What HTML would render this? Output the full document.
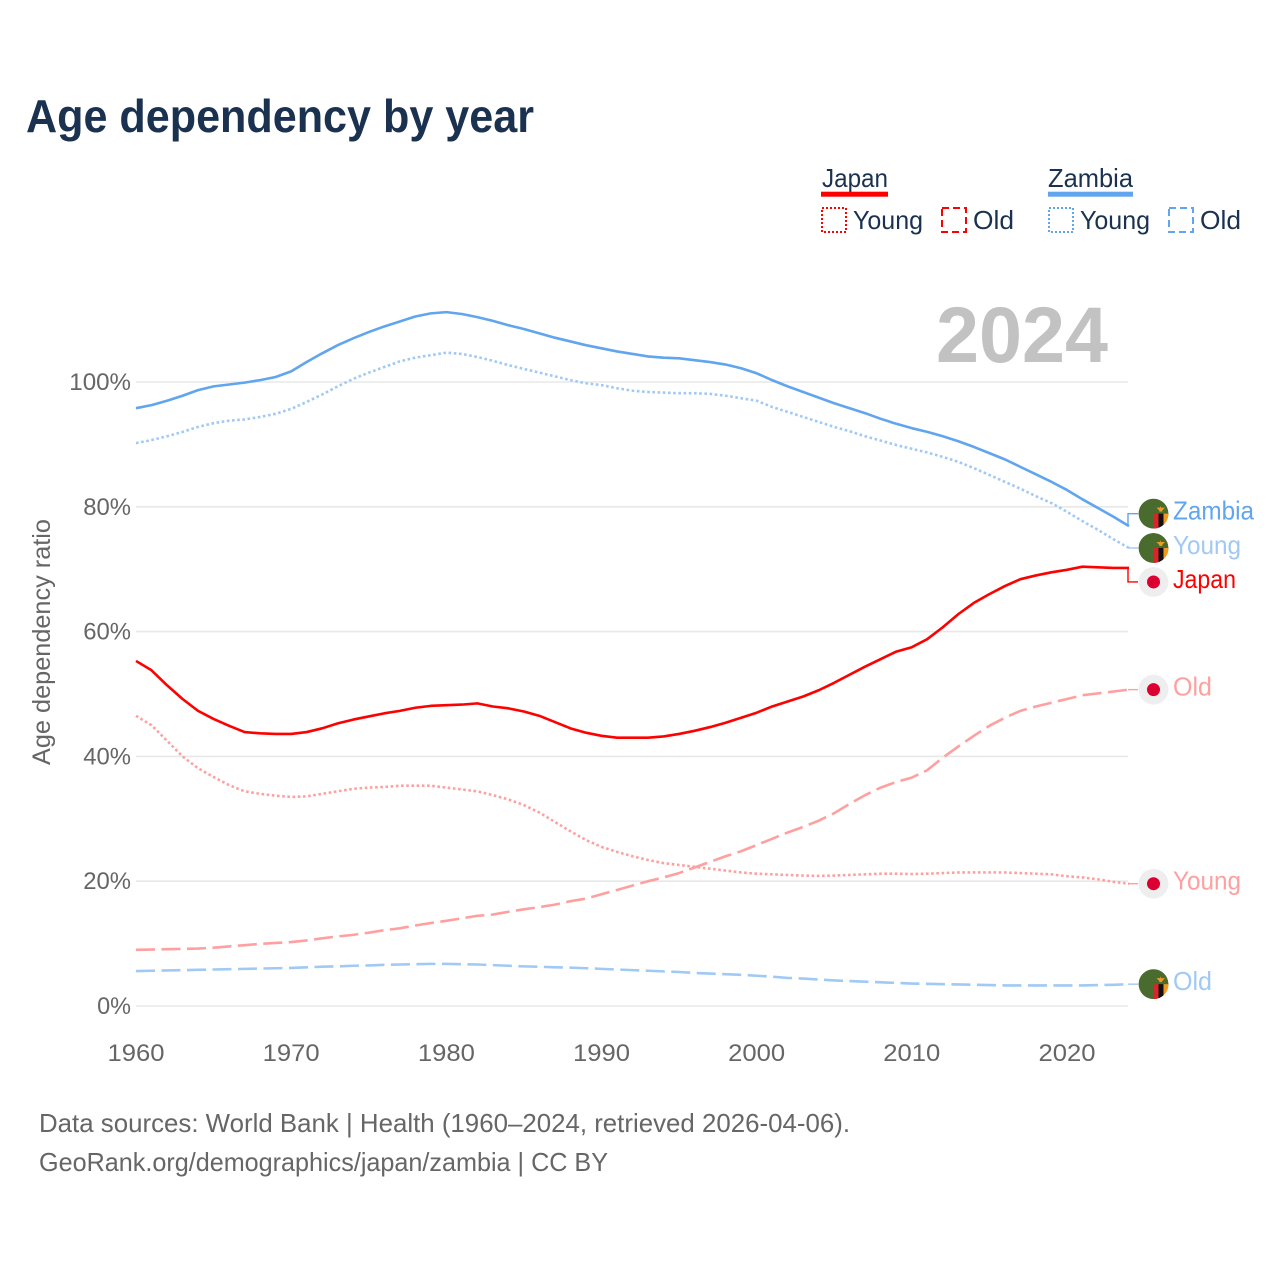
<!DOCTYPE html>
<html lang="en">
<head>
<meta charset="utf-8">
<title>Age dependency by year</title>
<style>
html,body{margin:0;padding:0;background:#fff;}
svg{display:block;font-family:"Liberation Sans",sans-serif;}
</style>
</head>
<body>
<svg id="chart" xmlns="http://www.w3.org/2000/svg" width="1280" height="1280" viewBox="0 0 1280 1280">
  <defs>
    <clipPath id="flag-clip"><circle cx="0" cy="0" r="15"></circle></clipPath>
  </defs>
  <rect x="0" y="0" width="1280" height="1280" fill="#ffffff"></rect>
  <text x="26" y="132" font-size="46" font-weight="700" fill="#1a3250" textLength="508" lengthAdjust="spacingAndGlyphs">Age dependency by year</text>

  <g>
    <text x="822" y="187" font-size="26" fill="#1a3250" textLength="66" lengthAdjust="spacingAndGlyphs">Japan</text>
    <rect x="821" y="191.7" width="67" height="5" fill="#ff0000"></rect>
    <rect x="822" y="208" width="24" height="24" fill="none" stroke="#ff0000" stroke-width="2" stroke-dasharray="2 2"></rect>
    <text x="853" y="229" font-size="26" fill="#1a3250" textLength="70" lengthAdjust="spacingAndGlyphs">Young</text>
    <rect x="942" y="208" width="24" height="24" fill="none" stroke="#ff0000" stroke-width="2" stroke-dasharray="7 4"></rect>
    <text x="973" y="229" font-size="26" fill="#1a3250" textLength="41" lengthAdjust="spacingAndGlyphs">Old</text>

    <text x="1048" y="187" font-size="26" fill="#1a3250" textLength="85" lengthAdjust="spacingAndGlyphs">Zambia</text>
    <rect x="1048" y="191.7" width="85" height="5" fill="#60a5ee"></rect>
    <rect x="1049" y="208" width="24" height="24" fill="none" stroke="#60a5ee" stroke-width="2" stroke-dasharray="2 2"></rect>
    <text x="1080" y="229" font-size="26" fill="#1a3250" textLength="70" lengthAdjust="spacingAndGlyphs">Young</text>
    <rect x="1169" y="208" width="24" height="24" fill="none" stroke="#60a5ee" stroke-width="2" stroke-dasharray="7 4"></rect>
    <text x="1200" y="229" font-size="26" fill="#1a3250" textLength="41" lengthAdjust="spacingAndGlyphs">Old</text>
  </g>

  <text x="936" y="362" font-size="79" font-weight="700" fill="#c2c2c2" textLength="172" lengthAdjust="spacingAndGlyphs">2024</text>
  <text transform="translate(50,765) rotate(-90)" x="0" y="0" font-size="25" fill="#666666" textLength="246" lengthAdjust="spacingAndGlyphs">Age dependency ratio</text>

  <g id="grid"></g>
  <g id="yticks"></g>
  <g id="xticks"></g>
  <g id="series"></g>
  <g id="labels"></g>

  <text x="39" y="1132" font-size="26" fill="#666666" textLength="811" lengthAdjust="spacingAndGlyphs">Data sources: World Bank | Health (1960–2024, retrieved 2026-04-06).</text>
  <text x="39" y="1171" font-size="26" fill="#666666" textLength="569" lengthAdjust="spacingAndGlyphs">GeoRank.org/demographics/japan/zambia | CC BY</text>
</svg>
<script>
var startYear = 1960;
var endYear = 2024;
var yTickValues = [0, 20, 40, 60, 80, 100];
var xTickValues = [1960, 1970, 1980, 1990, 2000, 2010, 2020];

var zambiaTotal = [95.8,96.3,97.0,97.8,98.7,99.3,99.6,99.9,100.3,100.8,101.7,103.2,104.6,105.9,107.0,108.0,108.9,109.7,110.5,111.0,111.2,110.9,110.4,109.8,109.1,108.5,107.8,107.1,106.5,105.9,105.4,104.9,104.5,104.1,103.9,103.8,103.5,103.2,102.8,102.2,101.4,100.3,99.3,98.4,97.5,96.6,95.8,95.0,94.1,93.3,92.6,92.0,91.3,90.5,89.6,88.6,87.6,86.4,85.2,84.0,82.7,81.2,79.8,78.4,76.9];
var zambiaYoung = [90.2,90.7,91.3,92.0,92.8,93.4,93.8,94.0,94.4,94.9,95.7,96.8,98.0,99.3,100.5,101.5,102.4,103.3,103.9,104.3,104.7,104.5,104.0,103.4,102.7,102.1,101.5,100.9,100.3,99.8,99.5,99.0,98.6,98.4,98.3,98.2,98.2,98.1,97.8,97.4,97.0,96.0,95.2,94.4,93.6,92.8,92.1,91.3,90.6,89.9,89.3,88.7,88.0,87.2,86.2,85.1,84.0,82.9,81.7,80.6,79.2,77.7,76.3,74.8,73.4];
var zambiaOld = [5.6,5.65,5.7,5.75,5.8,5.85,5.9,5.95,6.0,6.05,6.1,6.2,6.3,6.35,6.45,6.5,6.6,6.65,6.7,6.75,6.75,6.7,6.65,6.55,6.45,6.35,6.3,6.2,6.15,6.05,5.95,5.85,5.75,5.65,5.55,5.45,5.3,5.2,5.1,5.0,4.85,4.7,4.5,4.4,4.25,4.1,4.0,3.9,3.8,3.7,3.6,3.55,3.5,3.45,3.4,3.35,3.3,3.3,3.3,3.3,3.3,3.3,3.35,3.4,3.5];

var japanTotal = [55.3,53.8,51.4,49.2,47.3,46.0,44.9,43.9,43.7,43.6,43.6,43.9,44.5,45.3,45.9,46.4,46.9,47.3,47.8,48.1,48.2,48.3,48.5,48.0,47.7,47.2,46.5,45.5,44.5,43.8,43.3,43.0,43.0,43.0,43.2,43.6,44.1,44.7,45.4,46.2,47.0,48.0,48.8,49.6,50.6,51.8,53.1,54.4,55.6,56.8,57.5,58.8,60.7,62.8,64.6,66.0,67.3,68.4,69.0,69.5,69.9,70.4,70.3,70.2,70.2];
var japanYoung = [46.5,45.0,42.5,40.0,38.1,36.7,35.4,34.4,34.0,33.7,33.5,33.6,34.0,34.4,34.8,35.0,35.1,35.3,35.3,35.3,35.0,34.7,34.4,33.8,33.1,32.2,31.0,29.5,28.0,26.6,25.5,24.7,24.0,23.4,22.9,22.6,22.3,22.0,21.7,21.4,21.2,21.1,21.0,20.9,20.85,20.9,21.0,21.1,21.2,21.2,21.15,21.2,21.3,21.4,21.4,21.4,21.4,21.3,21.2,21.1,20.8,20.6,20.3,19.9,19.6];
var japanOld = [9.0,9.05,9.1,9.15,9.2,9.35,9.55,9.75,9.95,10.1,10.25,10.5,10.85,11.15,11.4,11.75,12.15,12.45,12.9,13.3,13.65,14.05,14.45,14.65,15.1,15.5,15.85,16.25,16.8,17.2,17.9,18.6,19.3,20.0,20.6,21.3,22.2,23.1,24.0,24.8,25.8,26.8,27.8,28.7,29.7,30.9,32.4,33.8,35.0,35.9,36.6,37.8,39.8,41.6,43.3,44.9,46.2,47.3,48.0,48.6,49.2,49.8,50.1,50.4,50.7];

var SVG_NS = 'http://www.w3.org/2000/svg';
var BLUE = '#60a5ee';
var RED = '#ff0000';
var PALE_BLUE = '#a0c9f5';
var PALE_RED = '#ffa0a0';
var SOLID_DASH = '';
var DOT_DASH = '2.6 2.6';
var LONG_DASH = '19 6.5';

function xScale(year) {
  return 136 + (year - startYear) * (1129 - 136) / (endYear - startYear);
}
function yScale(pct) {
  return 1006 - pct * 6.24;
}
function make(tag, attrs, parent) {
  var el = document.createElementNS(SVG_NS, tag);
  for (var k in attrs) { el.setAttribute(k, attrs[k]); }
  parent.appendChild(el);
  return el;
}

var gridGroup = document.getElementById('grid');
var yTickGroup = document.getElementById('yticks');
var xTickGroup = document.getElementById('xticks');
var seriesGroup = document.getElementById('series');
var labelGroup = document.getElementById('labels');

yTickValues.forEach(function (v) {
  var line = make('line', {x1: 136, x2: 1128, y1: yScale(v), y2: yScale(v), stroke: '#e8e8e8', 'stroke-width': 1.6}, gridGroup);
  
  
  var t = make('text', {x: 131, y: yScale(v) + 8, 'font-size': 24, fill: '#666666', 'text-anchor': 'end', textLength: String(v).length * 13.9 + 20, lengthAdjust: 'spacingAndGlyphs'}, yTickGroup);
  t.textContent = v + '%';
  
  
});

xTickValues.forEach(function (yr) {
  var t = make('text', {x: xScale(yr), y: 1061, 'font-size': 24, fill: '#666666', 'text-anchor': 'middle', textLength: 57, lengthAdjust: 'spacingAndGlyphs'}, xTickGroup);
  t.textContent = yr;
  
  
});

function drawSeries(name, values, color, dash) {
  var d = values.map(function (v, i) {
    return (i ? 'L' : 'M') + xScale(startYear + i).toFixed(2) + ' ' + yScale(v).toFixed(2);
  }).join(' ');
  var attrs = {d: d, fill: 'none', stroke: color, 'stroke-width': 2.6, 'stroke-linejoin': 'round'};
  if (dash) { attrs['stroke-dasharray'] = dash; }
  var path = make('path', attrs, seriesGroup);
  
  
}

function drawFlag(country, name, cy) {
  var g = make('g', {transform: 'translate(1153.5,' + cy + ')', 'clip-path': 'url(#flag-clip)'}, labelGroup);
  
  
  if (country === 'japan') {
    make('circle', {cx: 0, cy: 0, r: 15, fill: '#eeeeee'}, g);
    make('circle', {cx: 0, cy: 0, r: 6.5, fill: '#dc0030'}, g);
  } else {
    make('circle', {cx: 0, cy: 0, r: 15, fill: '#4a6b2e'}, g);
    make('rect', {x: 0, y: 0, width: 5, height: 16, fill: '#d8252b'}, g);
    make('rect', {x: 5, y: 0, width: 5, height: 16, fill: '#111111'}, g);
    make('rect', {x: 10, y: 0, width: 5, height: 16, fill: '#f39a1e'}, g);
    make('path', {d: 'M3 -6 L11.5 -6 L9 -3.5 L8.5 -2 L6 -2 L5.5 -3.5 Z M7 -8 L7.5 -6 L6.5 -6 Z', fill: '#f39a1e'}, g);
  }
}

function drawEnd(name, text, country, values, color, labelOffset, width) {
  var endY = yScale(values[values.length - 1]);
  var labelY = endY + labelOffset;
  var leader = make('path', {d: 'M1128 ' + endY.toFixed(2) + ' L1128 ' + labelY.toFixed(2) + ' L1138 ' + labelY.toFixed(2), fill: 'none', stroke: color, 'stroke-width': 1.4}, labelGroup);
  
  
  drawFlag(country, name, labelY);
  var t = make('text', {x: 1173, y: labelY + 6, 'font-size': 26, fill: color, textLength: width, lengthAdjust: 'spacingAndGlyphs'}, labelGroup);
  t.textContent = text;
  
  
}

drawSeries('zambia-old', zambiaOld, PALE_BLUE, LONG_DASH);
drawSeries('zambia-young', zambiaYoung, PALE_BLUE, DOT_DASH);
drawSeries('japan-old', japanOld, PALE_RED, LONG_DASH);
drawSeries('japan-young', japanYoung, PALE_RED, DOT_DASH);
drawSeries('zambia-total', zambiaTotal, BLUE, SOLID_DASH);
drawSeries('japan-total', japanTotal, RED, SOLID_DASH);

drawEnd('zambia-total', 'Zambia', 'zambia', zambiaTotal, BLUE, -12.5, 81);
drawEnd('zambia-young', 'Young', 'zambia', zambiaYoung, PALE_BLUE, 0, 68);
drawEnd('japan-total', 'Japan', 'japan', japanTotal, RED, 14, 63);
drawEnd('japan-old', 'Old', 'japan', japanOld, PALE_RED, 0, 39);
drawEnd('japan-young', 'Young', 'japan', japanYoung, PALE_RED, 0, 68);
drawEnd('zambia-old', 'Old', 'zambia', zambiaOld, PALE_BLUE, 0, 39);
</script>
</body>
</html>
